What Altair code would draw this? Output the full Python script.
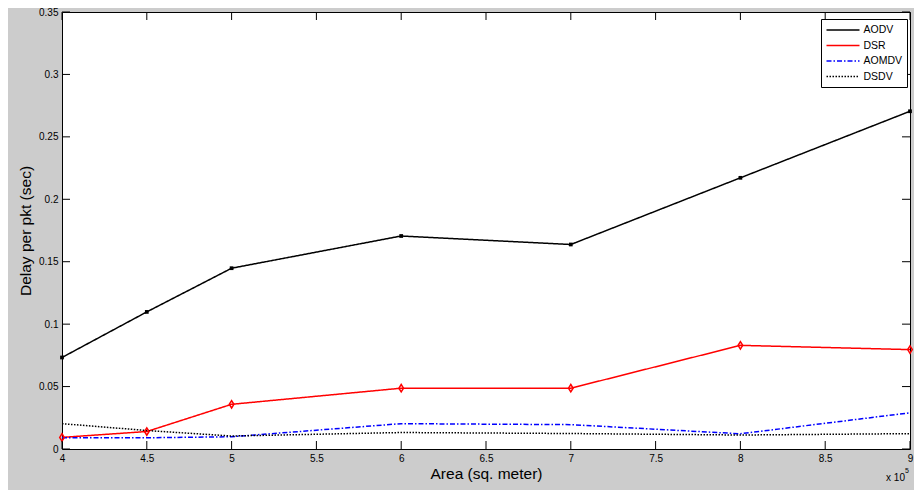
import altair as alt
import pandas as pd

# ---- data ----
area = [4, 4.5, 5, 6, 7, 8, 9]
aodv = [0.0733, 0.1098, 0.1448, 0.1706, 0.1638, 0.2172, 0.2705]
dsr = [0.0093, 0.0140, 0.0358, 0.0487, 0.0487, 0.0830, 0.0796]
aomdv = [0.0090, 0.0090, 0.0098, 0.0203, 0.0195, 0.0122, 0.0290]
dsdv = [0.0203, 0.0148, 0.0104, 0.0132, 0.0124, 0.0112, 0.0123]
series_names = ["AODV", "DSR", "AOMDV", "DSDV"]
y_ticks = [0, 0.05, 0.1, 0.15, 0.2, 0.25, 0.3, 0.35]
x_ticks = [4, 4.5, 5, 5.5, 6, 6.5, 7, 7.5, 8, 8.5, 9]

W, H = 848, 437
TICK = 8
FONT = "Liberation Sans"

rows = []
for name, vals in zip(series_names, [aodv, dsr, aomdv, dsdv]):
    for xv, yv in zip(area, vals):
        rows.append({"area": xv, "delay": yv, "series": name})
df = pd.DataFrame(rows)

xs = alt.Scale(domain=[4, 9], nice=False, zero=False)
ys = alt.Scale(domain=[0, 0.35], nice=False, zero=False)
xax = alt.Axis(values=x_ticks, format="~g", title="Area (sq. meter)",
               labelFlush=False, labelOverlap=False)
yax = alt.Axis(values=y_ticks, format="~g", title="Delay per pkt (sec)",
               labelFlush=False, labelOverlap=False)

leg = alt.Legend(title=None, orient="none", legendX=759, legendY=7,
                 strokeColor="black", fillColor="white", padding=4.5,
                 symbolType="M-1,0H5", symbolSize=121, symbolStrokeWidth=1.5,
                 labelFont=FONT, labelFontSize=10.5, labelColor="black",
                 labelOffset=25, rowPadding=3.5, cornerRadius=0)

lines = alt.Chart(df).mark_line(strokeWidth=1.5, clip=True).encode(
    x=alt.X("area:Q", scale=xs, axis=xax),
    y=alt.Y("delay:Q", scale=ys, axis=yax),
    color=alt.Color("series:N", scale=alt.Scale(domain=series_names,
                    range=["black", "#ff0000", "#0000ff", "black"]), legend=leg),
    strokeDash=alt.StrokeDash("series:N", scale=alt.Scale(domain=series_names,
                    range=[[1, 0], [1, 0], [5, 2, 1.5, 2], [1.5, 1.5]]), legend=leg),
    order="area:Q",
)

aodv_pts = alt.Chart(df).transform_filter(alt.datum.series == "AODV").mark_point(
    shape="square", filled=True, color="black", size=14, opacity=1).encode(
    x=alt.X("area:Q", scale=xs, axis=xax), y=alt.Y("delay:Q", scale=ys, axis=yax))

dsr_pts = alt.Chart(df).transform_filter(alt.datum.series == "DSR").mark_point(
    shape="M0,-1L0.62,0L0,1L-0.62,0Z", filled=False, color="#ff0000",
    strokeWidth=1.5, size=55, opacity=1).encode(
    x=alt.X("area:Q", scale=xs, axis=xax), y=alt.Y("delay:Q", scale=ys, axis=yax))

ytdf = pd.DataFrame({"v": y_ticks})
xtdf = pd.DataFrame({"v": x_ticks})
yl = alt.Chart(ytdf).mark_rule(color="black", strokeWidth=1).encode(
    y=alt.Y("v:Q", scale=ys, axis=yax), x=alt.value(0), x2=alt.value(TICK))
yr = alt.Chart(ytdf).mark_rule(color="black", strokeWidth=1).encode(
    y=alt.Y("v:Q", scale=ys, axis=yax), x=alt.value(W - TICK), x2=alt.value(W))
xb = alt.Chart(xtdf).mark_rule(color="black", strokeWidth=1).encode(
    x=alt.X("v:Q", scale=xs, axis=xax), y=alt.value(H - TICK), y2=alt.value(H))
xt = alt.Chart(xtdf).mark_rule(color="black", strokeWidth=1).encode(
    x=alt.X("v:Q", scale=xs, axis=xax), y=alt.value(0), y2=alt.value(TICK))

exp_base = alt.Chart(pd.DataFrame({"t": ["x 10"]})).mark_text(
    align="right", baseline="alphabetic", dx=-5, dy=32, fontSize=10,
    font=FONT, color="black").encode(
    x=alt.datum(9, scale=xs, axis=xax), y=alt.datum(0, scale=ys, axis=yax), text="t:N")
exp_pow = alt.Chart(pd.DataFrame({"t": ["5"]})).mark_text(
    align="left", baseline="alphabetic", dx=-5, dy=24, fontSize=7,
    font=FONT, color="black").encode(
    x=alt.datum(9, scale=xs, axis=xax), y=alt.datum(0, scale=ys, axis=yax), text="t:N")

chart = alt.layer(lines, aodv_pts, dsr_pts, yl, yr, xb, xt, exp_base, exp_pow).properties(
    width=W, height=H,
    autosize=alt.AutoSizeParams(type="none"),
    padding={"left": 54, "top": 4, "right": 4, "bottom": 41},
    background="#cccccc",
).configure_view(
    fill="white", stroke="black", strokeWidth=1
).configure_axis(
    grid=False, domain=False, ticks=False,
    labelFont=FONT, labelFontSize=10, labelColor="black",
    titleFont=FONT, titleFontSize=15.5, titleFontWeight="normal", titleColor="black",
).configure_axisY(
    labelPadding=4, titlePadding=5
).configure_axisX(
    labelPadding=4, titlePadding=3
)

chart.save("out.html", embed_options={"renderer": "svg", "actions": False})
